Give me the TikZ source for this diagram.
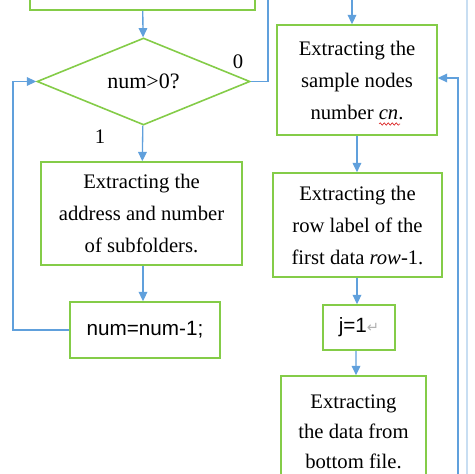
\documentclass[tikz,border=0pt]{standalone}
\usepackage{fontspec}
\setmainfont{Liberation Serif}
\newfontfamily\arialfont{Liberation Sans}
\newfontfamily\symfont{DejaVu Sans}
\usetikzlibrary{shapes.geometric,arrows.meta,decorations.pathmorphing}
\definecolor{boxgreen}{RGB}{132,204,72}
\definecolor{arrblue}{RGB}{96,160,220}
\definecolor{paleblue}{RGB}{200,222,242}
\definecolor{wavered}{RGB}{220,40,40}

\begin{document}
\begin{tikzpicture}[x=0.75pt,y=0.75pt,yscale=-1,xscale=1,
    stepbox/.style={draw=boxgreen, line width=1.2pt, fill=white, align=center, inner sep=0pt,
        font=\fontsize{15.5}{24}\selectfont},
    decbox/.style={draw=boxgreen, line width=1.2pt, shape=diamond, aspect=2.45, inner sep=0pt,
        minimum width=159.75pt, minimum height=65.25pt, font=\fontsize{16.5}{24}\selectfont},
    arr/.style={draw=arrblue, line width=1pt, -{Triangle[width=6.5pt,length=7pt]}},
    plain/.style={draw=arrblue, line width=1pt}]
    \useasboundingbox (0,0) rectangle (474,474);
    \clip (0,0) rectangle (474,474);

    %Shape: Rectangle [id:start] 
    \node [stepbox, minimum width=168.75pt, minimum height=37.5pt] (start) at (142.5,-15) {};
    %Shape: Diamond [id:dec] 
    \node [decbox] (dec) at (143.5,81.5) {\raisebox{-4.5pt}{num>0?}};
    %Shape: Rectangle [id:subf] 
    \node [stepbox, minimum width=150.75pt, minimum height=77.25pt] (subf) at (141.5,213.5)
        {Extracting the\\address and number\\of subfolders.};
    %Shape: Rectangle [id:numdec] 
    \node [stepbox, minimum width=112.5pt, minimum height=42pt, font=\arialfont\fontsize{15.5}{24}\selectfont] (numdec) at (145,330) {num=num-1;};
    %Shape: Rectangle [id:cn] 
    \node [stepbox, minimum width=120pt, minimum height=82.5pt] (cn) at (357,80)
        {Extracting the\\sample nodes\\number \textit{cn}.};
    %Shape: Rectangle [id:row] 
    \node [stepbox, minimum width=126.75pt, minimum height=78pt] (row) at (357.5,225)
        {Extracting the\\row label of the\\first data \textit{row}-1.};
    %Shape: Rectangle [id:jone] 
    \node [stepbox, minimum width=54pt, minimum height=33.75pt, font=\arialfont\fontsize{15.5}{24}\selectfont] (jone) at (359,327.5)
        {j=1\textcolor{gray!60}{\symfont\fontsize{11}{12}\selectfont ↵}};
    %Shape: Rectangle [id:bfile] 
    \node [stepbox, minimum width=108.75pt, minimum height=84pt, font=\fontsize{15.5}{22.5}\selectfont] (bfile) at (353.5,432)
        {Extracting\\the data from\\bottom file.};

    % Coordinates for the loose ends
    \coordinate (upleft) at (268,-30);
    \coordinate (loopl) at (13,200);
    \coordinate (backin) at (458,500);

    %Straight Lines 
    \draw [arr] (start) -- (dec);
    \draw [arr] (dec) -- (subf);
    \draw [arr] (subf.south -| numdec.north) ++(-2,0) -- ([xshift=-1.5pt]numdec.north);
    \draw [arr] (numdec.west) -| (loopl) |- (dec.west);
    \draw [plain] (dec.east) -| (upleft);
    \draw [arr] ([xshift=-3.75pt]cn.north |- upleft) -- ([xshift=-3.75pt]cn.north);
    \draw [arr] ([xshift=-0.4pt]row.north |- cn.south) -- ([xshift=-0.4pt]row.north);
    \draw [arr] (row.south -| jone.north) ++(-2,0) -- ([xshift=-1.5pt]jone.north);
    \draw [arr] (jone.south -| bfile.north) ++(2.5,0) -- ([xshift=1.9pt]bfile.north);
    \draw [arr] (backin) |- ([yshift=-1.5pt]cn.east);
    \draw [draw=paleblue, line width=1pt] (467,-10) -- (467,500);

    %Wavy underline 
    \draw [wavered, line width=0.5pt, decorate, decoration={snake, amplitude=0.9pt, segment length=3pt}] (379,124) -- (400,124);

    % Text Node
    \node [font=\fontsize{15.5}{24}\selectfont, inner sep=0.75pt] (lbl0) at (238,62) {0};
    % Text Node
    \node [font=\fontsize{15.5}{24}\selectfont, inner sep=0.75pt] (lbl1) at (100,137) {1};
\end{tikzpicture}
\end{document}
